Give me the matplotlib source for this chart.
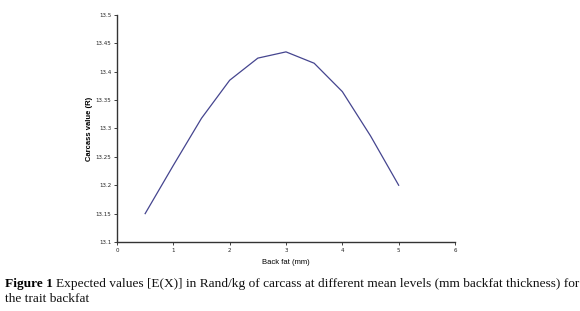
import numpy as np
import matplotlib.pyplot as plt

# data
backfat = [0.5, 1.0, 1.5, 2.0, 2.5, 3.0, 3.5, 4.0, 4.5, 5.0]
carcass_value = [13.15, 13.235, 13.318, 13.385, 13.424, 13.435, 13.415, 13.365, 13.287, 13.20]
x_ticks = [0, 1, 2, 3, 4, 5, 6]
y_ticks = [13.1, 13.15, 13.2, 13.25, 13.3, 13.35, 13.4, 13.45, 13.5]
y_labels = ['13.1', '13.15', '13.2', '13.25', '13.3', '13.35', '13.4', '13.45', '13.5']

fig = plt.figure(figsize=(5.8, 3.11), dpi=100)
ax = fig.add_axes([0.2017, 0.2219, 0.5828, 0.7299])

ax.plot(backfat, carcass_value, color='#45458f', linewidth=0.9)

ax.set_xlim(0, 6)
ax.set_ylim(13.1, 13.5)
ax.set_xticks(x_ticks)
ax.set_yticks(y_ticks)
ax.set_xticklabels([str(v) for v in x_ticks])
ax.set_yticklabels(y_labels)
ax.tick_params(labelsize=4, length=2, width=0.6, pad=2, colors='#222222')

for s in ['top', 'right']:
    ax.spines[s].set_visible(False)
for s in ['left', 'bottom']:
    ax.spines[s].set_linewidth(1.0)
    ax.spines[s].set_color('#333333')

ax.set_xlabel('Back fat (mm)', fontsize=5.5, family='Liberation Sans', labelpad=5)
ax.set_ylabel('Carcass value (R)', fontsize=5.5, family='Liberation Sans', fontweight='bold', labelpad=2)

# caption below the chart
cap_size = 9.6
t1 = fig.text(0.009, 0.077, 'Figure 1', fontsize=cap_size, family='Liberation Serif', fontweight='bold')
renderer = fig.canvas.get_renderer()
bb = t1.get_window_extent(renderer=renderer)
x_next = (bb.x1 + 3) / fig.bbox.width
fig.text(x_next, 0.077, 'Expected values [E(X)] in Rand/kg of carcass at different mean levels (mm backfat thickness) for',
         fontsize=cap_size, family='Liberation Serif', color='#111111')
fig.text(0.009, 0.03, 'the trait backfat', fontsize=cap_size, family='Liberation Serif', color='#111111')

fig.savefig('out.png', dpi=100)
